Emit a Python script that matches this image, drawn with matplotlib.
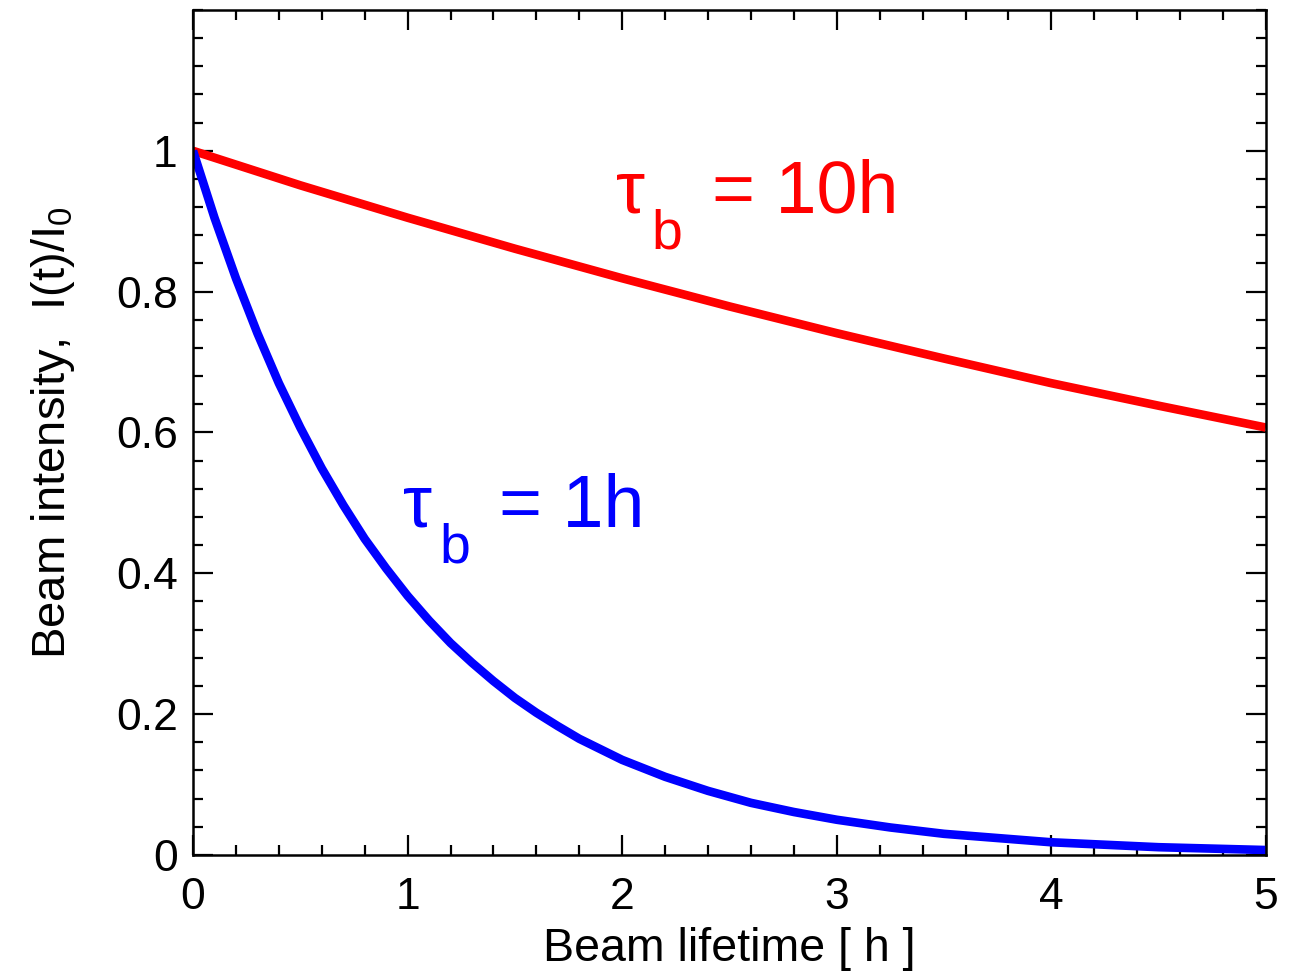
import matplotlib
matplotlib.use('Agg')
import matplotlib.pyplot as plt
from matplotlib.ticker import MultipleLocator

plt.rcParams['font.family'] = ['Liberation Sans', 'DejaVu Sans']
plt.rcParams['mathtext.fontset'] = 'custom'
plt.rcParams['mathtext.rm'] = 'Liberation Sans'
plt.rcParams['mathtext.it'] = 'Liberation Sans'

# values
t_short = [0, 0.1, 0.2, 0.3, 0.4, 0.5, 0.6, 0.7, 0.8, 0.9, 1.0, 1.1, 1.2, 1.3,
           1.4, 1.5, 1.6, 1.7, 1.8, 1.9, 2.0, 2.2, 2.4, 2.6, 2.8, 3.0, 3.25,
           3.5, 3.75, 4.0, 4.5, 5.0]
i_short = [1.0, 0.905, 0.819, 0.741, 0.670, 0.607, 0.549, 0.497, 0.449, 0.407,
           0.368, 0.333, 0.301, 0.273, 0.247, 0.223, 0.202, 0.183, 0.165, 0.150,
           0.135, 0.111, 0.091, 0.074, 0.061, 0.050, 0.039, 0.030, 0.024, 0.018,
           0.011, 0.007]

t_long = [0, 0.5, 1, 1.5, 2, 2.5, 3, 3.5, 4, 4.5, 5]
i_long = [1.0, 0.951, 0.905, 0.861, 0.819, 0.779, 0.741, 0.705, 0.670, 0.638, 0.607]

xticks = [0, 1, 2, 3, 4, 5]
xlabels = ['0', '1', '2', '3', '4', '5']
yticks = [0, 0.2, 0.4, 0.6, 0.8, 1.0]
ylabels = ['0', '0.2', '0.4', '0.6', '0.8', '1']

fig = plt.figure(figsize=(12.98, 9.8), dpi=100)
ax = fig.add_axes([0.1487, 0.1276, 0.8266, 0.8622])

ax.plot(t_long, i_long, color='#ff0000', lw=6.2, solid_capstyle='butt',
        solid_joinstyle='round')
ax.plot(t_short, i_short, color='#0000ff', lw=6.2, solid_capstyle='butt',
        solid_joinstyle='round')

ax.set_xlim(0, 5)
ax.set_ylim(0, 1.2)
ax.set_xticks(xticks)
ax.set_xticklabels(xlabels)
ax.set_yticks(yticks)
ax.set_yticklabels(ylabels)
ax.xaxis.set_minor_locator(MultipleLocator(0.2))
ax.yaxis.set_minor_locator(MultipleLocator(0.04))

ax.tick_params(which='both', direction='in', top=True, right=True, width=1.6)
ax.tick_params(which='major', length=14.5, labelsize=32)
ax.tick_params(which='minor', length=7)
ax.tick_params(axis='x', which='major', pad=16)
ax.tick_params(axis='y', which='major', pad=11)
for s in ax.spines.values():
    s.set_linewidth(1.8)

ax.set_xlabel('Beam lifetime [ h ]', fontsize=33.5, labelpad=6)
ax.set_ylabel('Beam intensity,  I(t)/I$_0$', fontsize=34, labelpad=28)


def tau_label(x, y, value, color):
    ax.annotate('\u03c4', xy=(x, y), xycoords='data', color=color,
                fontsize=53, ha='left', va='baseline')
    ax.annotate('b', xy=(x, y), xycoords='data', xytext=(26, -26),
                textcoords='offset points', color=color, fontsize=40,
                ha='left', va='baseline')
    ax.annotate('= ' + value, xy=(x, y), xycoords='data', xytext=(69, 0),
                textcoords='offset points', color=color, fontsize=53,
                ha='left', va='baseline')


tau_label(1.97, 0.913, '10h', '#ff0000')
tau_label(0.98, 0.466, '1h', '#0000ff')

fig.savefig('out.png', dpi=100)
